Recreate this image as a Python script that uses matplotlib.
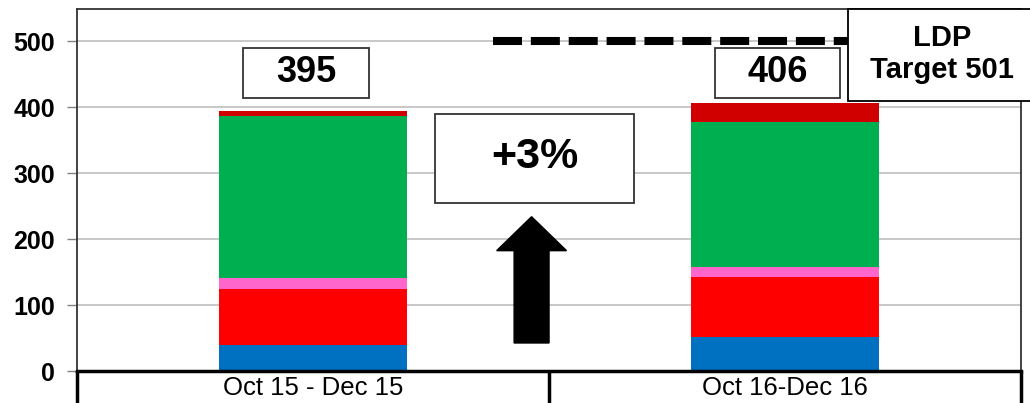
import matplotlib
matplotlib.use("Agg")
import matplotlib.pyplot as plt
import matplotlib.transforms as mtransforms
from matplotlib.patches import Rectangle, FancyArrow

# Stacked totals per period
periods = ["Oct 15 - Dec 15", "Oct 16-Dec 16"]
blue = [40, 51]
red = [84, 91]
pink = [17, 16]
green = [246, 220]
dark_red = [8, 28]
totals = [395, 406]
change_label = "+3%"
target = 501
yticks = [0, 100, 200, 300, 400, 500]

layers = [blue, red, pink, green, dark_red]
colors = ["#0070C0", "#FF0000", "#FF66CC", "#00B050", "#D00000"]

plt.rcParams['font.family'] = ['Liberation Sans', 'DejaVu Sans']

fig = plt.figure(figsize=(10.3, 4.03), dpi=100)
ax = fig.add_axes([0.0748, 0.0794, 0.9165, 0.8983])

x = list(range(len(periods)))
bottom = [0] * len(periods)
for vals, c in zip(layers, colors):
    ax.bar(x, vals, width=0.40, bottom=bottom, color=c, zorder=2)
    bottom = [b + v for b, v in zip(bottom, vals)]

ax.set_xlim(-0.5, 1.5)
ax.set_ylim(0, 549)
ax.set_yticks(yticks)
ax.set_yticklabels([str(t) for t in yticks], fontsize=18, fontweight='bold')
ax.set_xticks([])
ax.grid(axis='y', color='#BFBFBF', linewidth=1.2, zorder=0)
ax.set_axisbelow(True)
ax.tick_params(axis='y', length=7, width=1, color='#808080', pad=9)

for side in ['left', 'top', 'right']:
    ax.spines[side].set_color('#333333')
    ax.spines[side].set_linewidth(1.3)
ax.spines['bottom'].set_color('black')
ax.spines['bottom'].set_linewidth(2.5)

# category table under the axis
trans = mtransforms.blended_transform_factory(ax.transData, ax.transAxes)
for xe in [-0.5, 0.5, 1.5]:
    ax.plot([xe, xe], [0, -0.1], color='black', lw=2.5, transform=trans,
            clip_on=False, solid_capstyle='butt')
for xi, name in zip(x, periods):
    ax.text(xi, -0.047, name, transform=trans, ha='center', va='center',
            fontsize=18.5)

# value boxes above each bar
for xi, tot in zip(x, totals):
    cx = xi - 0.015
    ax.add_patch(Rectangle((cx - 0.1325, 414), 0.265, 76, facecolor='white',
                           edgecolor='#333333', lw=1.3, zorder=4))
    ax.text(cx, 452, str(tot), ha='center', va='center', fontsize=26,
            fontweight='bold', zorder=5)

# target line
ax.plot([0.381, 1.3], [target, target], color='black', lw=5.8,
        linestyle=(0, (3.6, 1.1)), zorder=3)

# change box and arrow
ax.add_patch(Rectangle((0.258, 255), 0.422, 134, facecolor='white',
                       edgecolor='#333333', lw=1.3, zorder=4))
ax.text(0.469, 324, change_label, ha='center', va='center', fontsize=31,
        fontweight='bold', zorder=5)
ax.add_patch(FancyArrow(0.463, 42.5, 0, 191.5, width=0.074, head_width=0.148,
                        head_length=51.5, length_includes_head=True,
                        color='black', zorder=4))

# target box, running off the right edge
ax.add_patch(Rectangle((1.133, 410), 0.45, 139, facecolor='white',
                       edgecolor='black', lw=1.3, zorder=6, clip_on=False))
ax.text(1.333, 481, f"LDP\nTarget {target}", ha='center', va='center',
        fontsize=21, fontweight='bold', linespacing=1.2, zorder=7)

fig.savefig("out.png", dpi=100)
